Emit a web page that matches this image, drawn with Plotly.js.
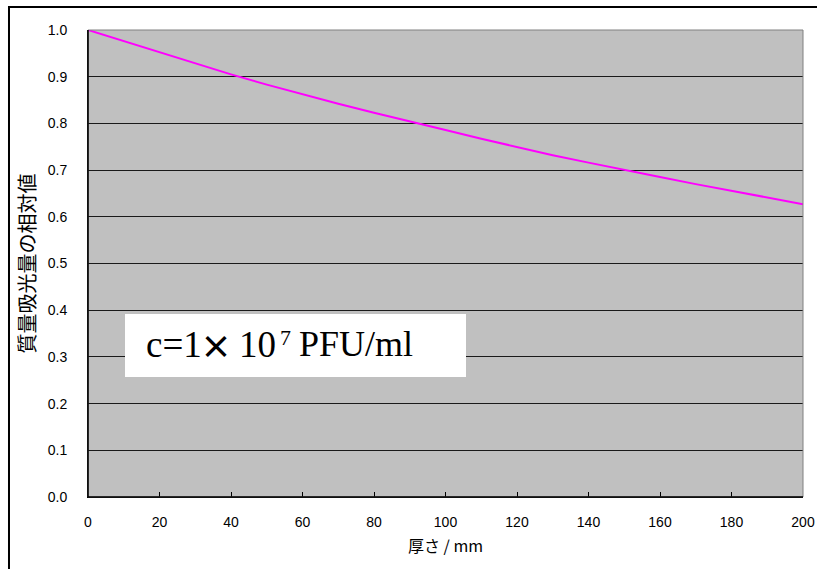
<!DOCTYPE html>
<html><head><meta charset="utf-8">
<script src="https://cdn.plot.ly/plotly-3.0.1.min.js"></script>
<style>html,body{margin:0;padding:0;background:#fff}#c{width:817px;height:569px}</style>
</head><body><div id="c"></div>
<script>
const thickness = [0,10,20,30,40,50,60,70,80,90,100,110,120,130,140,150,160,170,180,190,200];
const relValue = [1.000,0.976,0.952,0.928,0.905,0.883,0.862,0.842,0.823,0.805,0.786,0.767,0.749,0.732,0.716,0.700,0.685,0.670,0.656,0.641,0.627];
const xTicks = [0,20,40,60,80,100,120,140,160,180,200];
const yTicks = [0,0.1,0.2,0.3,0.4,0.5,0.6,0.7,0.8,0.9,1.0];
const xTitle = '厚さ / mm';
const yTitle = '質量吸光量の相対値';
const notePieces = ['c=1', '×', '10', '7', 'PFU/ml'];

const cjk = 'Noto Sans CJK JP, sans-serif';
const serif = 'Liberation Serif, Times New Roman, serif';
const px = (v) => (v - 88) / 715;
const py = (v) => (497 - v) / 467;

function piece(text, x, y, size, family, anchor, weight) {
  return {xref:'paper', yref:'paper', x:px(x), y:py(y), xanchor:anchor, yanchor:'middle',
    text:text, showarrow:false, font:{family:family, size:size, color:'#000', weight:weight||400}};
}

Plotly.newPlot('c', [{
  x: thickness, y: relValue, type:'scatter', mode:'lines',
  line:{color:'#ff00ff', width:2}, hoverinfo:'skip'
}], {
  width:817, height:569,
  margin:{l:88, r:14, t:30, b:72},
  paper_bgcolor:'#ffffff', plot_bgcolor:'#c0c0c0',
  showlegend:false,
  xaxis:{range:[0,200], tickvals:xTicks, ticks:'inside', ticklen:5, tickcolor:'#000', tickwidth:1,
    showgrid:false, zeroline:false, showline:true, linecolor:'#000', linewidth:1,
    tickfont:{family:'Liberation Sans, Arial, sans-serif', size:14, color:'#000'}, ticklabelstandoff:12,
    title:{text:xTitle, font:{family:cjk, size:16, color:'#000'}, standoff:12}},
  yaxis:{range:[0,1.0], tickvals:yTicks, tickformat:'.1f', ticks:'',
    showgrid:true, gridcolor:'#1a1a1a', gridwidth:1, zeroline:false,
    showline:true, linecolor:'#000', linewidth:1,
    tickfont:{family:'Liberation Sans, Arial, sans-serif', size:14, color:'#000'}, ticklabelstandoff:17,
    title:{text:yTitle, font:{family:cjk, size:20, color:'#000'}, standoff:6}},
  shapes:[
    {type:'rect', xref:'paper', yref:'paper', x0:0, x1:1, y0:0, y1:1, line:{color:'#808080', width:1}, layer:'above'},
    {type:'line', xref:'paper', yref:'paper', x0:0, x1:0, y0:0, y1:1, line:{color:'#000', width:1.5}, layer:'above'},
    {type:'line', xref:'paper', yref:'paper', x0:0, x1:1, y0:0, y1:0, line:{color:'#000', width:1.5}, layer:'above'},
    {type:'rect', xref:'paper', yref:'paper', x0:-0.1105, x1:1.2, y0:-0.5, y1:1.0493, line:{color:'#000', width:2}, layer:'above'},
    {type:'rect', xref:'paper', yref:'paper', x0:px(125), x1:px(466), y0:py(377), y1:py(314), fillcolor:'#fff', line:{width:0}, layer:'above'}
  ],
  annotations:[
    piece(notePieces[0], 144, 344, 37, serif, 'left'),
    piece(notePieces[1], 216, 345, 32, cjk, 'center', 700),
    piece(notePieces[2], 237, 344, 37, serif, 'left'),
    piece(notePieces[3], 278, 337, 22, serif, 'left'),
    piece(notePieces[4], 297, 344, 36, serif, 'left')
  ]
}, {staticPlot:true});
</script></body></html>
